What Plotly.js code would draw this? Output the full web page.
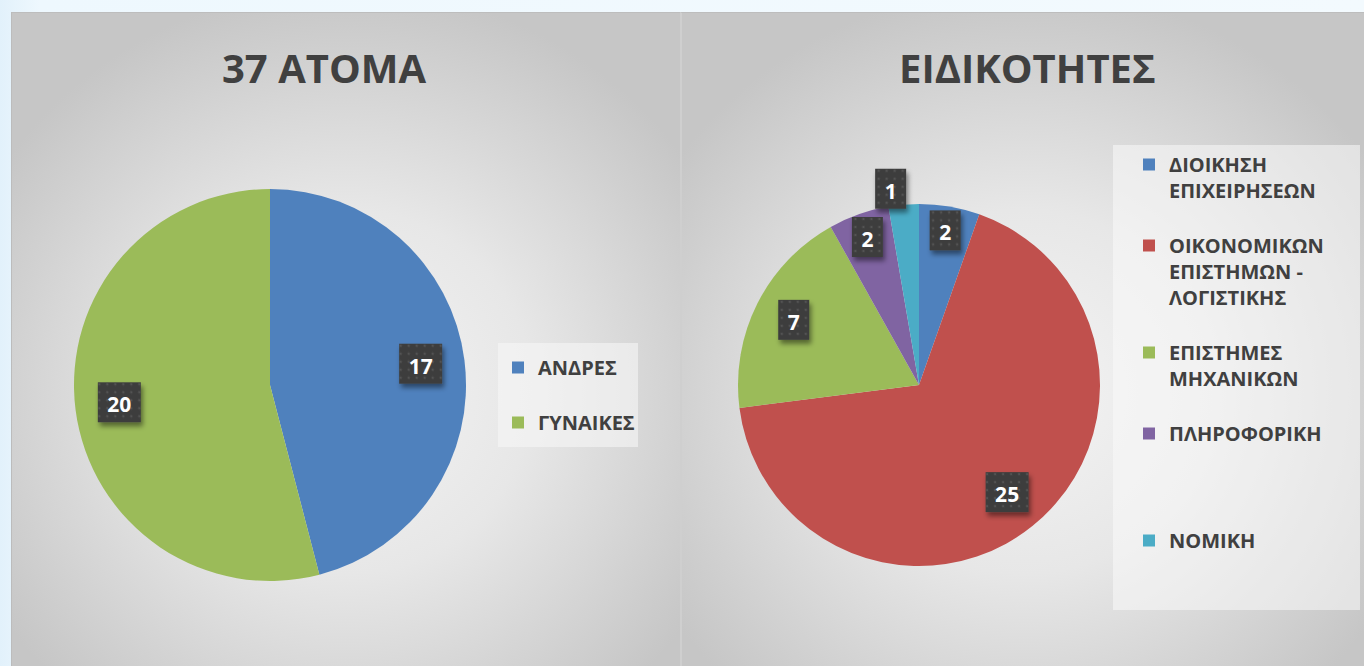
<!DOCTYPE html>
<html>
<head>
<meta charset="utf-8">
<script src="https://cdn.plot.ly/plotly-3.0.1.min.js"></script>
<style>
html,body{margin:0;padding:0;width:1364px;height:666px;overflow:hidden;
  background:linear-gradient(to right,#e2f1fb 0px,#eef8fe 40px,#f3fafe 100%);}
.panel{position:absolute;top:12px;height:654px;box-sizing:border-box;}
#p1{left:11px;width:669px;border-top:1px solid #bdbdbd;border-left:1px solid #bcbcbc;
  background:radial-gradient(ellipse 62% 62% at 50% 58%,#f4f4f4 0%,#e7e7e7 45%,#d2d2d2 80%,#c6c6c6 100%);}
#p2{left:680px;width:684px;border-top:1px solid #bdbdbd;border-left:2px solid #cfcfcf;
  background:radial-gradient(ellipse 62% 62% at 50% 58%,#f4f4f4 0%,#e7e7e7 45%,#d2d2d2 80%,#c6c6c6 100%);}
#chart{position:absolute;left:0;top:0;width:1364px;height:666px;}
</style>
</head>
<body>
<svg width="0" height="0" style="position:absolute">
  <defs>
    <pattern id="lblDots" width="8" height="8" patternUnits="userSpaceOnUse">
      <rect width="8" height="8" fill="#3e3e3e"/>
      <circle cx="4" cy="4" r="1.2" fill="#525252"/>
    </pattern>
    <filter id="lblShadow" x="-30%" y="-30%" width="160%" height="170%">
      <feDropShadow dx="2" dy="4" stdDeviation="2.5" flood-color="#000" flood-opacity="0.45"/>
    </filter>
  </defs>
</svg>
<div class="panel" id="p1"></div>
<div class="panel" id="p2"></div>
<div id="chart"></div>
<script>
// ---- data ----
const leftTitle = '37 ΑΤΟΜΑ';
const rightTitle = 'ΕΙΔΙΚΟΤΗΤΕΣ';

const genderLabels = ['ΑΝΔΡΕΣ', 'ΓΥΝΑΙΚΕΣ'];
const genderValues = [17, 20];
const genderColors = ['#4f81bd', '#9bbb59'];

const fieldLabels = [
  ['ΔΙΟΙΚΗΣΗ', 'ΕΠΙΧΕΙΡΗΣΕΩΝ'],
  ['ΟΙΚΟΝΟΜΙΚΩΝ', 'ΕΠΙΣΤΗΜΩΝ -', 'ΛΟΓΙΣΤΙΚΗΣ'],
  ['ΕΠΙΣΤΗΜΕΣ', 'ΜΗΧΑΝΙΚΩΝ'],
  ['ΠΛΗΡΟΦΟΡΙΚΗ'],
  ['ΝΟΜΙΚΗ']
];
const fieldValues = [2, 25, 7, 2, 1];
const fieldColors = ['#4f81bd', '#c0504d', '#9bbb59', '#8064a2', '#4bacc6'];
const fieldTextPos = ['inside', 'inside', 'inside', 'inside', 'outside'];

// ---- layout helpers ----
const W = 1364, H = 666;
const px = v => v / W;
const py = v => 1 - v / H;
const FONT = 'Open Sans, Noto Sans, DejaVu Sans, sans-serif';
const DARK = '#404040';

// legend line padding (blank lines keep Excel-like spacing)
const genderLines = [2, 2];
const fieldLines = [3, 4, 3, 4, 3];
function pad(lines, n) {
  const out = lines.slice();
  while (out.length < n) out.push(' ');
  return out.join('<br>');
}
const genderNames = genderLabels.map((l, i) => pad([l], genderLines[i]));
const fieldNames = fieldLabels.map((l, i) => pad(l, fieldLines[i]));

const domLeft = {x: [px(74), px(466)], y: [py(581), py(189)]};
const domRight = {x: [px(738), px(1100)], y: [py(566), py(204)]};

const labelFont = {family: FONT, size: 21, color: '#ffffff', weight: 'bold'};
const clear = c => c.map(() => 'rgba(0,0,0,0)');

const data = [
  { type: 'pie', labels: genderNames, values: genderValues, sort: false,
    direction: 'clockwise', rotation: 0, domain: domLeft,
    marker: {colors: genderColors, line: {width: 0}},
    textinfo: 'none', hoverinfo: 'skip', legend: 'legend' },
  { type: 'pie', labels: genderNames, values: genderValues, sort: false,
    direction: 'clockwise', rotation: 0, domain: domLeft, hole: 0.55,
    marker: {colors: clear(genderColors), line: {width: 0}},
    textinfo: 'value', textposition: 'inside', insidetextorientation: 'horizontal',
    textfont: labelFont, insidetextfont: labelFont,
    showlegend: false, hoverinfo: 'skip', legend: 'legend' },
  { type: 'pie', labels: fieldNames, values: fieldValues, sort: false,
    direction: 'clockwise', rotation: 0, domain: domRight,
    marker: {colors: fieldColors, line: {width: 0}},
    textinfo: 'none', hoverinfo: 'skip', legend: 'legend2' },
  { type: 'pie', labels: fieldNames, values: fieldValues, sort: false,
    direction: 'clockwise', rotation: 0, domain: domRight, hole: 0.55,
    marker: {colors: clear(fieldColors), line: {width: 0}},
    textinfo: 'value', textposition: fieldTextPos, insidetextorientation: 'horizontal',
    textfont: labelFont, insidetextfont: labelFont, outsidetextfont: labelFont,
    showlegend: false, hoverinfo: 'skip', legend: 'legend2' }
];

const legendFont = {family: FONT, size: 20, color: DARK, weight: 'bold'};

const layout = {
  width: W, height: H,
  margin: {l: 0, r: 0, t: 0, b: 0},
  paper_bgcolor: 'rgba(0,0,0,0)',
  plot_bgcolor: 'rgba(0,0,0,0)',
  font: {family: FONT, color: DARK},
  showlegend: true,
  legend: {
    x: px(498), y: py(348), xanchor: 'left', yanchor: 'top',
    bgcolor: 'rgba(0,0,0,0)', borderwidth: 0,
    font: legendFont, valign: 'top', itemwidth: 30, traceorder: 'normal'
  },
  legend2: {
    x: px(1113), y: py(145), xanchor: 'left', yanchor: 'top',
    bgcolor: 'rgba(0,0,0,0)', borderwidth: 0, indentation: 16,
    font: legendFont, valign: 'top', itemwidth: 30, traceorder: 'normal'
  },
  shapes: [
    {type: 'rect', xref: 'paper', yref: 'paper', layer: 'below',
     x0: px(498), x1: px(638), y0: py(447), y1: py(343),
     fillcolor: 'rgba(246,246,246,0.6)', line: {width: 0}},
    {type: 'rect', xref: 'paper', yref: 'paper', layer: 'below',
     x0: px(1113), x1: px(1360), y0: py(610), y1: py(145),
     fillcolor: 'rgba(250,250,250,0.55)', line: {width: 0}}
  ],
  annotations: [
    {text: leftTitle, xref: 'paper', yref: 'paper', x: px(324), y: py(67),
     xanchor: 'center', yanchor: 'middle', showarrow: false,
     font: {family: FONT, size: 40, color: DARK, weight: 'bold'}},
    {text: rightTitle, xref: 'paper', yref: 'paper', x: px(1027), y: py(67),
     xanchor: 'center', yanchor: 'middle', showarrow: false,
     font: {family: FONT, size: 40, color: DARK, weight: 'bold'}}
  ]
};

Plotly.newPlot('chart', data, layout, {staticPlot: true, displayModeBar: false}).then(gd => {
  const ns = 'http://www.w3.org/2000/svg';
  gd.querySelectorAll('g.slicetext text').forEach(t => {
    let tr = t.getAttribute('transform') || '';
    // keep the library's placement, but draw labels at full font size
    tr = tr.replace(/scale\([^)]*\)/g, '');
    if (tr) t.setAttribute('transform', tr);
    const bb = t.getBBox();
    if (!bb.width) return;
    const padX = 9.5, boxH = 40;
    const cy = bb.y + bb.height / 2 - 2;
    const r = document.createElementNS(ns, 'rect');
    r.setAttribute('x', bb.x - padX);
    r.setAttribute('y', cy - boxH / 2);
    r.setAttribute('width', bb.width + 2 * padX);
    r.setAttribute('height', boxH);
    if (tr) r.setAttribute('transform', tr);
    r.setAttribute('fill', 'url(#lblDots)');
    r.setAttribute('filter', 'url(#lblShadow)');
    t.parentNode.insertBefore(r, t);
  });
});
</script>
</body>
</html>
